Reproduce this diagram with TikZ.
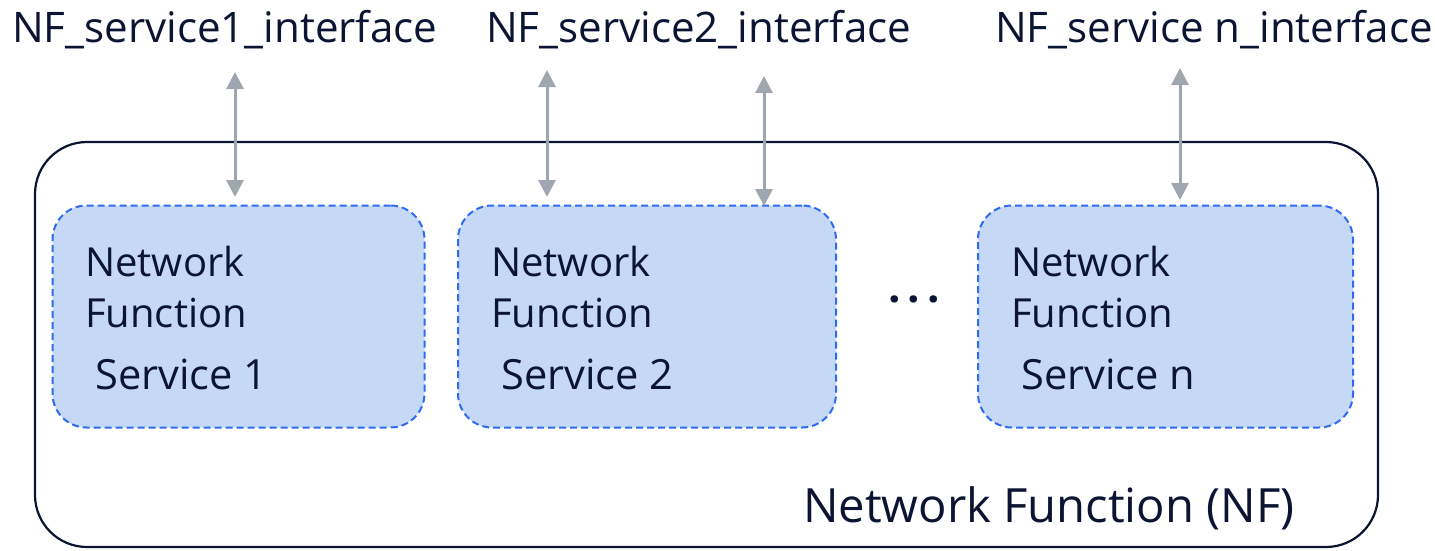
\documentclass[tikz,border=0pt]{standalone}
\usepackage{fontspec}
\setmainfont{Open Sans}
\usetikzlibrary{arrows.meta}
\definecolor{ink}{HTML}{0B1533}
\definecolor{svcfill}{HTML}{C5D8F5}
\definecolor{svcline}{HTML}{2F6BF0}
\definecolor{linkgray}{HTML}{A0A6B0}
\begin{document}
\begin{tikzpicture}[x=1pt,y=-1pt,
  lbl/.style={anchor=base west, inner sep=0pt, text=ink, font=\fontsize{40}{48}\selectfont},
  iflbl/.style={lbl, font=\fontsize{42.1}{50}\selectfont},
  svclbl/.style={lbl, font=\fontsize{41.6}{50}\selectfont},
  svcbox/.style={draw=svcline, fill=svcfill, line width=2pt, dash pattern=on 7pt off 4pt,
    rounded corners=34pt, minimum width=372pt, minimum height=222pt, inner sep=0pt},
  link/.style={draw=linkgray, line width=3pt,
    {Triangle[width=17pt,length=17pt]}-{Triangle[width=17pt,length=17pt]}}
]
\useasboundingbox (0,0) rectangle (1435,550);

% enclosing network function
\draw[ink, line width=2.2pt, rounded corners=52pt] (35,142) rectangle (1378,547);

% service boxes
\node[svcbox] (s1) at (238.5,316.5) {};
\node[svcbox, minimum width=378pt] (s2) at (647,316.5) {};
\node[svcbox, minimum width=375pt] (s3) at (1165.5,316.5) {};

% interface labels
\node[iflbl] (i1) at (12,42) {NF\_service1\_interface};
\node[iflbl] (i2) at (486,42) {NF\_service2\_interface};
\node[iflbl] (i3) at (995,42) {NF\_service n\_interface};

% service texts
\node[lbl] (n1a) at (85,276) {Network};
\node[lbl] (n1b) at (85,327) {Function};
\node[svclbl] (n1c) at (95,389) {Service 1};
\node[lbl] (n2a) at (491,276) {Network};
\node[lbl] (n2b) at (491,327) {Function};
\node[svclbl] (n2c) at (501,389) {Service 2};
\node[lbl] (n3a) at (1011,276) {Network};
\node[lbl] (n3b) at (1011,327) {Function};
\node[svclbl] (n3c) at (1021,389) {Service n};

\node[lbl, anchor=center, font=\fontsize{44}{50}\selectfont\bfseries] (dots) at (914,299) {.\hspace{7pt}.\hspace{7pt}.};

\node[lbl, font=\fontsize{47.2}{54}\selectfont] (nf) at (803,522) {Network Function (NF)};

% interface links
\coordinate (t1) at (235,72);
\coordinate (b1) at (235,197);
\coordinate (t2) at (547,70);
\coordinate (b2) at (547,197);
\coordinate (t3) at (764,76);
\coordinate (b3) at (764,206);
\coordinate (t4) at (1180,68);
\coordinate (b4) at (1180,200);
\draw[link] (t1) -- (b1);
\draw[link] (t2) -- (b2);
\draw[link] (t3) -- (b3);
\draw[link] (t4) -- (b4);
\end{tikzpicture}
\end{document}
